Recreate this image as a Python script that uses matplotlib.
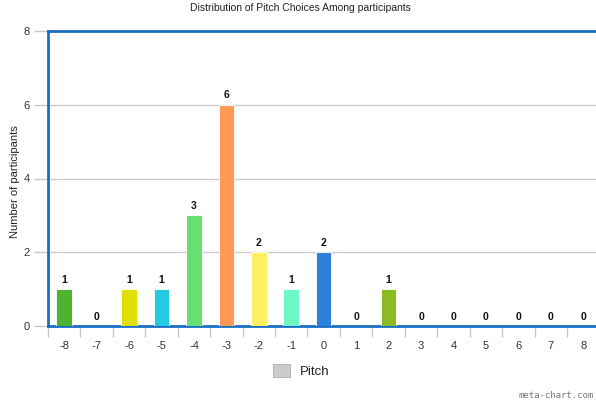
import matplotlib
matplotlib.use("Agg")
import matplotlib.pyplot as plt
from matplotlib.patches import Rectangle

pitches = list(range(-8, 9))
counts = [1, 0, 1, 1, 3, 6, 2, 1, 2, 0, 1, 0, 0, 0, 0, 0, 0]
bar_colors = ["#4db331", "#d9d9d9", "#e0e000", "#24cae3", "#66e070", "#ff9955",
              "#fff063", "#6cf8c4", "#2f7fdc", "#d9d9d9", "#8bbb22", "#d9d9d9",
              "#d9d9d9", "#d9d9d9", "#d9d9d9", "#d9d9d9", "#d9d9d9"]
y_ticks = [0, 2, 4, 6, 8]

W, H = 596, 404
fig = plt.figure(figsize=(W / 100, H / 100), dpi=100)
plt.rcParams["font.family"] = ["Liberation Sans", "DejaVu Sans"]

left, right, top, bottom = 48, 599.4, 31, 326
ax = fig.add_axes([left / W, 1 - bottom / H, (right - left) / W, (bottom - top) / H])
ax.set_xlim(-8.5, 8.5)
ax.set_ylim(0, 8)

ax.set_axisbelow(True)
ax.grid(axis="y", color="#cccccc", linewidth=1)

ax.bar(pitches, counts, width=0.48, color=bar_colors, edgecolor="white",
       linewidth=0.6, zorder=3)
for x, v in zip(pitches, counts):
    ax.text(x, v + 0.12, str(v), ha="center", va="bottom", fontsize=7.5,
            fontweight="bold", color="#111111", zorder=4)

blue = "#1a6fc4"
for s in ["left", "top", "bottom"]:
    ax.spines[s].set_color(blue)
    ax.spines[s].set_linewidth(2)
ax.spines["right"].set_visible(False)

ax.set_yticks(y_ticks)
ax.set_yticklabels([str(t) for t in y_ticks], fontsize=8, color="#333333")
ax.tick_params(axis="y", length=10, width=1, color="#c0c8d0", pad=3)

# category ticks sit on the boundaries, labels at the centres
ax.set_xticks([p - 0.5 for p in pitches] + [8.5])
ax.set_xticklabels([])
ax.tick_params(axis="x", which="major", length=8, width=1, color="#c0c8d0")
ax.set_xticks(pitches, minor=True)
ax.set_xticklabels([str(p) for p in pitches], minor=True, fontsize=8, color="#333333")
ax.tick_params(axis="x", which="minor", length=0, pad=11)

ax.set_ylabel("Number of participants", fontsize=8, color="#222222")
ax.yaxis.set_label_coords((20 - left) / (right - left), 0.49)

fig.text(300 / W, 1 - 8 / H, "Distribution of Pitch Choices Among participants",
         ha="center", va="center", fontsize=7.5, color="#222222")

fig.patches.append(Rectangle((273 / W, 1 - 377 / H), 17 / W, 13 / H,
                             transform=fig.transFigure, facecolor="#cccccc",
                             edgecolor="#aaaaaa", linewidth=0.6))
fig.text(300 / W, 1 - 372 / H, "Pitch", ha="left", va="center", fontsize=9.5,
         color="#222222")
fig.text(594 / W, 1 - 395 / H, "meta-chart.com", ha="right", va="center",
         fontsize=6.5, color="#777777", family=["DejaVu Sans Mono"])

fig.savefig("out.png", dpi=100)
